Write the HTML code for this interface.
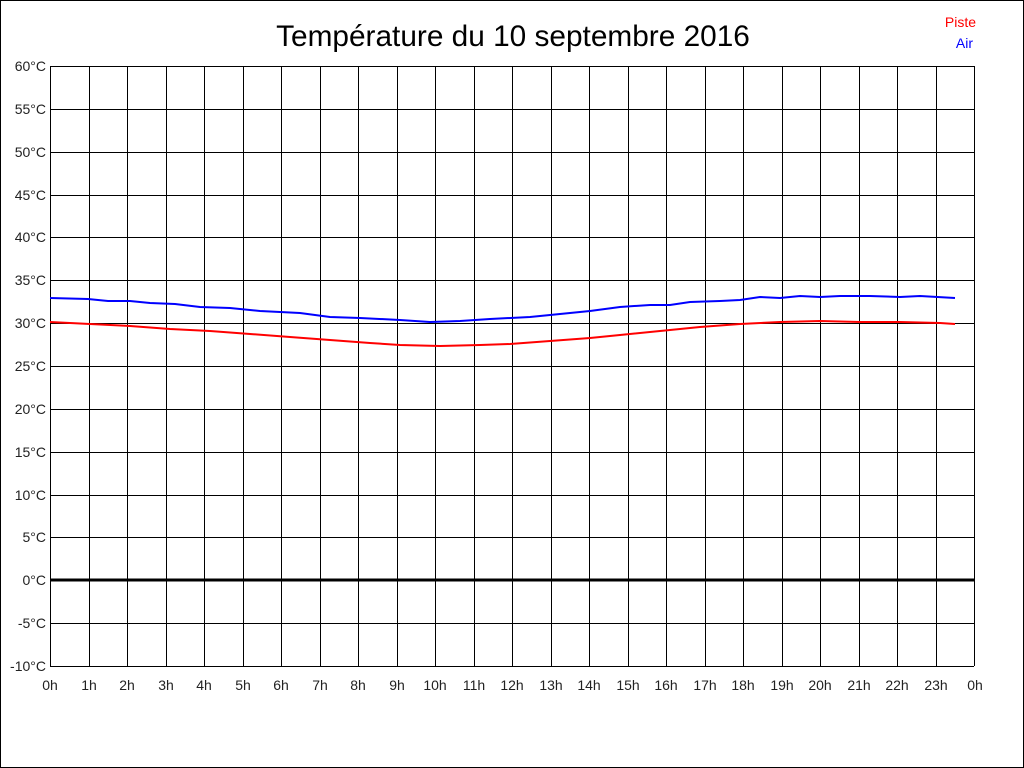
<!DOCTYPE html>
<html><head><meta charset="utf-8"><style>body{margin:0;background:#fff}svg{display:block}</style></head>
<body>
<svg width="1024" height="768" xmlns="http://www.w3.org/2000/svg" font-family="Liberation Sans, sans-serif">
<rect x="0.5" y="0.5" width="1023" height="767" fill="#fff" stroke="#000" stroke-width="1"/>
<text x="513" y="46" font-size="29.8" text-anchor="middle">Température du 10 septembre 2016</text>
<text x="976" y="27" font-size="14" fill="#f00" text-anchor="end">Piste</text>
<text x="973" y="48" font-size="14" fill="#00f" text-anchor="end">Air</text>
<g id="grid" stroke="#000" stroke-width="1" shape-rendering="crispEdges"></g>
<g id="labels" font-size="14" fill="#222"></g>
<line x1="50" y1="580" x2="974" y2="580" stroke="#000" stroke-width="3"/>
<polyline fill="none" stroke="#00f" stroke-width="2" points="50,298 88,299 108,301 130,301 150,303 175,304 200,307 230,308 260,311 300,313 330,317 360,318 400,320 430,322 460,321 490,319 530,317 560,314 590,311 620,307 650,305 670,305 690,302 720,301 740,300 760,297 780,298 800,296 820,297 840,296 870,296 900,297 920,296 955,298"/>
<polyline fill="none" stroke="#f00" stroke-width="2" points="50,322 90,324 130,326 170,329 210,331 250,334 290,337 330,340 370,343 400,345 440,346 480,345 510,344 550,341 590,338 620,335 660,331 700,327 740,324 780,322 820,321 860,322 900,322 940,323 955,324"/>
<script>
var g=document.getElementById('grid'),l=document.getElementById('labels'),ns='http://www.w3.org/2000/svg';
function el(p,t,a,txt){var e=document.createElementNS(ns,t);for(var k in a)e.setAttribute(k,a[k]);if(txt!=null)e.textContent=txt;p.appendChild(e);}
for(var i=0;i<=24;i++){var x=Math.round(50+38.5*i);el(g,'line',{x1:x+0.5,y1:66,x2:x+0.5,y2:666});
el(l,'text',{x:x+(i==24?1:0),y:690,'text-anchor':'middle'},(i%24)+'h');}
for(var j=0;j<=14;j++){var y=Math.round(66+600/14*j);el(g,'line',{x1:50,y1:y+0.5,x2:974,y2:y+0.5});
el(l,'text',{x:46,y:y+5,'text-anchor':'end'},(60-5*j)+'°C');}
</script>
</svg>
</body></html>
